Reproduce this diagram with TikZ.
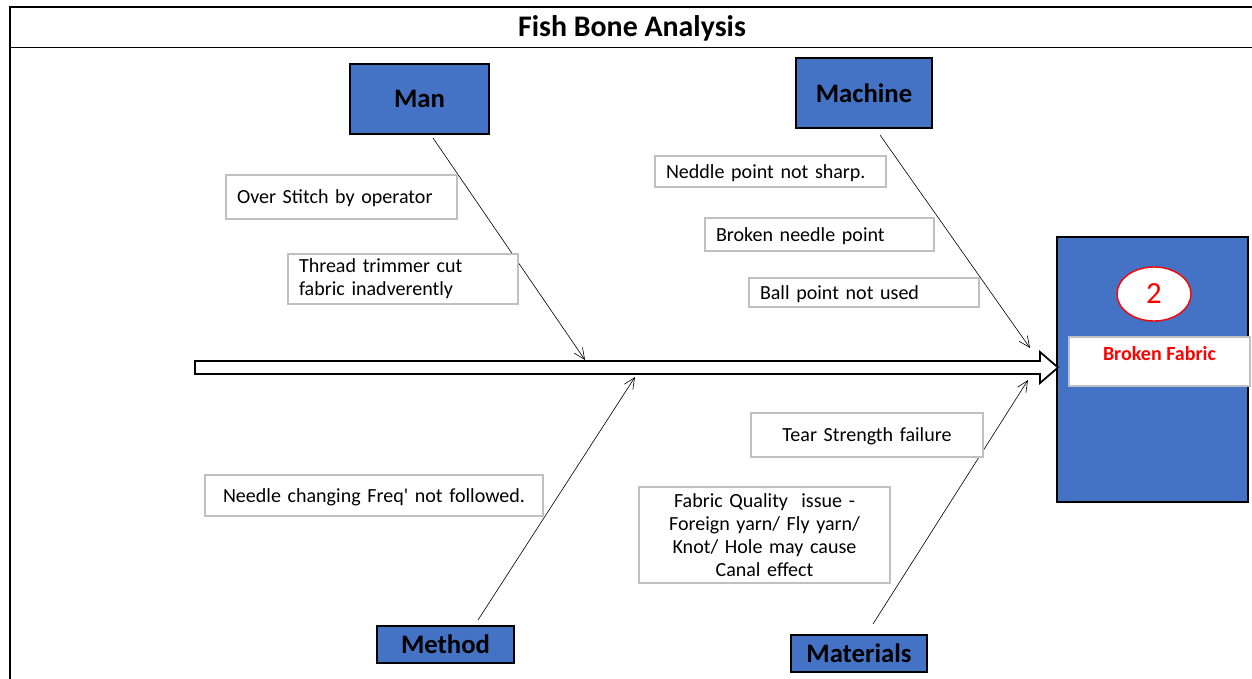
\documentclass[tikz,border=0pt]{standalone}
\usepackage{fontspec}
\setmainfont{Carlito}
\usepackage{xcolor}
\usetikzlibrary{shapes.geometric,arrows.meta}

\definecolor{catblue}{HTML}{4472C4}
\definecolor{boxgray}{HTML}{C0C0C0}
\definecolor{fxred}{HTML}{FF0000}
\newcommand{\pw}{0.02cm}

\tikzset{
  cat/.style={draw=black, fill=catblue, line width=1.1pt, inner sep=0pt,
    font=\fontsize{15.2}{18}\selectfont\bfseries},
  cause/.style={draw=boxgray, fill=white, line width=0.7pt, inner xsep=11*\pw, inner ysep=0pt,
    font=\fontsize{11.4}{13.1}\selectfont},
  oneline/.style={cause, text depth=0pt},
  bone/.style={-{Straight Barb[length=2.2mm, width=2mm]}, line width=0.35pt}
}

\begin{document}
\begin{tikzpicture}[x=0.02cm,y=-0.02cm]
    \useasboundingbox (0,0) rectangle (1252,679);
    % frame and title
    \draw[line width=1.1pt] (10,679) -- (10,7) -- (1252,7);
    \draw[line width=1.1pt] (10,47.5) -- (1252,47.5);
    \node[font=\fontsize{17}{20}\selectfont\bfseries] (title) at (632,28) {Fish Bone Analysis};

    % effect
    \node[draw=black, fill=catblue, line width=1.1pt, minimum width=191*\pw, minimum height=265*\pw] (effect) at (1152.5,369.5) {};
    \node[ellipse, draw=fxred, fill=white, line width=0.8pt, minimum width=74*\pw, minimum height=54*\pw, inner sep=0pt,
      text=fxred, font=\fontsize{17.5}{20}\selectfont] (num) at (1154,294) {2};
    \node[draw=boxgray, fill=white, line width=0.7pt, minimum width=181*\pw, minimum height=49*\pw,
      label={[anchor=north, inner sep=0pt, yshift=-10*\pw, text=fxred, font=\fontsize{11.4}{13}\selectfont\bfseries]north:Broken Fabric}] (fx) at (1159.5,361.5) {};

    % spine
    \draw[line width=1pt, fill=white] (195,361) -- (1040,361) -- (1040,352) -- (1058,367.5) -- (1040,383) -- (1040,374) -- (195,374) -- cycle;

    % categories
    \node[cat, minimum width=139*\pw, minimum height=70*\pw] (man) at (419.5,99) {Man};
    \node[cat, minimum width=136*\pw, minimum height=70*\pw] (machine) at (864,93) {Machine};
    \node[cat, minimum width=137*\pw, minimum height=37*\pw] (method) at (445.5,644.5) {Method};
    \node[cat, minimum width=136*\pw, minimum height=37*\pw] (materials) at (859,653.5) {Materials};

    % bones
    \coordinate (man-s) at (433,138);
    \coordinate (man-e) at (585,360);
    \coordinate (machine-s) at (880,135);
    \coordinate (machine-e) at (1030,348);
    \coordinate (method-s) at (478,620);
    \coordinate (method-e) at (635,377);
    \coordinate (materials-s) at (873,624);
    \coordinate (materials-e) at (1028,380);
    \draw[bone] (man-s) -- (man-e);
    \draw[bone] (machine-s) -- (machine-e);
    \draw[bone] (method-s) -- (method-e);
    \draw[bone] (materials-s) -- (materials-e);

    % causes
    \node[oneline, text width=209*\pw, align=left, minimum height=44*\pw] (over) at (341.5,197) {Over Stitch by operator};
    \node[cause, text width=208*\pw, align=left, minimum height=50*\pw] (trim) at (403,279) {Thread trimmer cut\\fabric inadverently};
    \node[oneline, text width=209*\pw, align=left, minimum height=31*\pw] (sharp) at (770.5,171.5) {Neddle point not sharp.};
    \node[oneline, text width=207*\pw, align=left, minimum height=33*\pw] (broken) at (819.5,234.5) {Broken needle point};
    \node[oneline, text width=208*\pw, align=left, minimum height=29*\pw] (ball) at (864,292.5) {Ball point not used};
    \node[oneline, text width=316*\pw, align=center, minimum height=41*\pw] (freq) at (374,495.5) {Needle changing Freq\textquotesingle{} not followed.};
    \node[oneline, text width=210*\pw, align=center, minimum height=44*\pw] (tear) at (867,435) {Tear Strength failure};
    \node[cause, text width=229*\pw, align=center, minimum height=96*\pw] (quality) at (764.5,535) {Fabric Quality~ issue -\\Foreign yarn/ Fly yarn/\\Knot/ Hole may cause\\Canal effect};
  \end{tikzpicture}
\end{document}
